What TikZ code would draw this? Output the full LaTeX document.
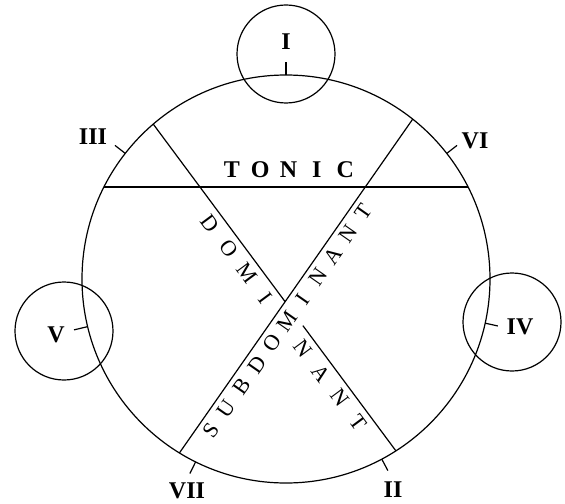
\documentclass[tikz,border=0pt]{standalone}
\usepackage{fontspec}
\setmainfont{Liberation Serif}
\usetikzlibrary{calc}

\tikzset{
    numeral/.style={font=\fontsize{12}{14}\selectfont\bfseries, inner sep=0pt},
    spaced/.style={font=\fontsize{12}{14}\selectfont\bfseries, inner sep=0pt},
    slanted/.style={font=\fontsize{11}{13}\selectfont, inner sep=0pt},
}

\begin{document}
\begin{tikzpicture}[x=0.5pt, y=0.5pt, line width=0.6pt]
    \useasboundingbox (-286,-224) rectangle (279,279);

    %% Centre and the big circle
    \coordinate (O) at (0, 0);
    \draw (O) circle (204);

    %% --- The three key circles (I, V, IV) ---
    \draw (0, 225)    circle (49);
    \draw (-222, -52) circle (49);
    \draw (226, -43)  circle (49);

    %% --- Ticks on the rim ---
    \coordinate (inI)   at (90:204);    \coordinate (outI)   at (90:217);
    \coordinate (inIII) at (142:204);   \coordinate (outIII) at (142:217);
    \coordinate (inVI)  at (38:204);    \coordinate (outVI)  at (38:217);
    \coordinate (inV)   at (193.5:204); \coordinate (outV)   at (193.5:218);
    \coordinate (inIV)  at (347.5:204); \coordinate (outIV)  at (347.5:217);
    \coordinate (inVII) at (243.7:204); \coordinate (outVII) at (243.7:217);
    \coordinate (inII)  at (298:204);   \coordinate (outII)  at (298:217);

    \draw (inI)   -- (outI);
    \draw (inIII) -- (outIII);
    \draw (inVI)  -- (outVI);
    \draw (inV)   -- (outV);
    \draw (inIV)  -- (outIV);
    \draw (inVII) -- (outVII);
    \draw (inII)  -- (outII);

    %% Degree numerals
    \node[numeral] (labI)   at (0, 237)     {I};
    \node[numeral] (labIII) at (-193, 142)  {III};
    \node[numeral] (labVI)  at (189, 138)   {VI};
    \node[numeral] (labV)   at (-230, -56)  {V};
    \node[numeral] (labIV)  at (234, -48)   {IV};
    \node[numeral] (labVII) at (-99, -212)  {VII};
    \node[numeral] (labII)  at (107, -211)  {II};

    %% --- Tonic chord ---
    \coordinate (tonicR) at (26.8:204);
    \coordinate (tonicL) at (153.2:204);
    \draw (tonicL) -- (tonicR);

    \node[spaced] (ton1) at (-54, 109)   {T};
    \node[spaced] (ton2) at (-25.7, 109) {O};
    \node[spaced] (ton3) at (2.6, 109)   {N};
    \node[spaced] (ton4) at (30.9, 109)  {I};
    \node[spaced] (ton5) at (59.2, 109)  {C};

    %% --- Dominant chord (broken where it meets the other one) ---
    \coordinate (a1) at (130.6:204);
    \coordinate (a2) at (-57.4:204);

    \begin{scope}[shift={(a1)}, rotate=-53.4, transform shape]
        \coordinate (cross)  at (221, 0);
        \coordinate (resume) at (251, 0);
        \node[slanted] (dom1) at (113.6, -13.3) {D};
        \node[slanted] (dom2) at (144.6, -13.3) {O};
        \node[slanted] (dom3) at (175.6, -13.3) {M};
        \node[slanted] (dom4) at (206.6, -13.3) {I};
        \node[slanted] (dom5) at (269.6, -13.3) {N};
        \node[slanted] (dom6) at (300.2, -13.3) {A};
        \node[slanted] (dom7) at (330.8, -13.3) {N};
        \node[slanted] (dom8) at (361.6, -13.3) {T};
    \end{scope}

    \draw (a1) -- (cross);
    \draw (resume) -- (a2);

    %% --- Subdominant chord ---
    \coordinate (b1) at (238.5:204);
    \coordinate (b2) at (51.6:204);
    \draw (b1) -- (b2);

    \begin{scope}[shift={(b1)}, rotate=55.06, transform shape]
        \node[slanted] (sub1)  at (36.4, -13)  {S};
        \node[slanted] (sub2)  at (63.1, -13)  {U};
        \node[slanted] (sub3)  at (89.8, -13)  {B};
        \node[slanted] (sub4)  at (116.5, -13) {D};
        \node[slanted] (sub5)  at (143.2, -13) {O};
        \node[slanted] (sub6)  at (169.9, -13) {M};
        \node[slanted] (sub7)  at (196.6, -13) {I};
        \node[slanted] (sub8)  at (223.3, -13) {N};
        \node[slanted] (sub9)  at (250.0, -13) {A};
        \node[slanted] (sub10) at (276.7, -13) {N};
        \node[slanted] (sub11) at (303.4, -13) {T};
    \end{scope}

\end{tikzpicture}
\end{document}
